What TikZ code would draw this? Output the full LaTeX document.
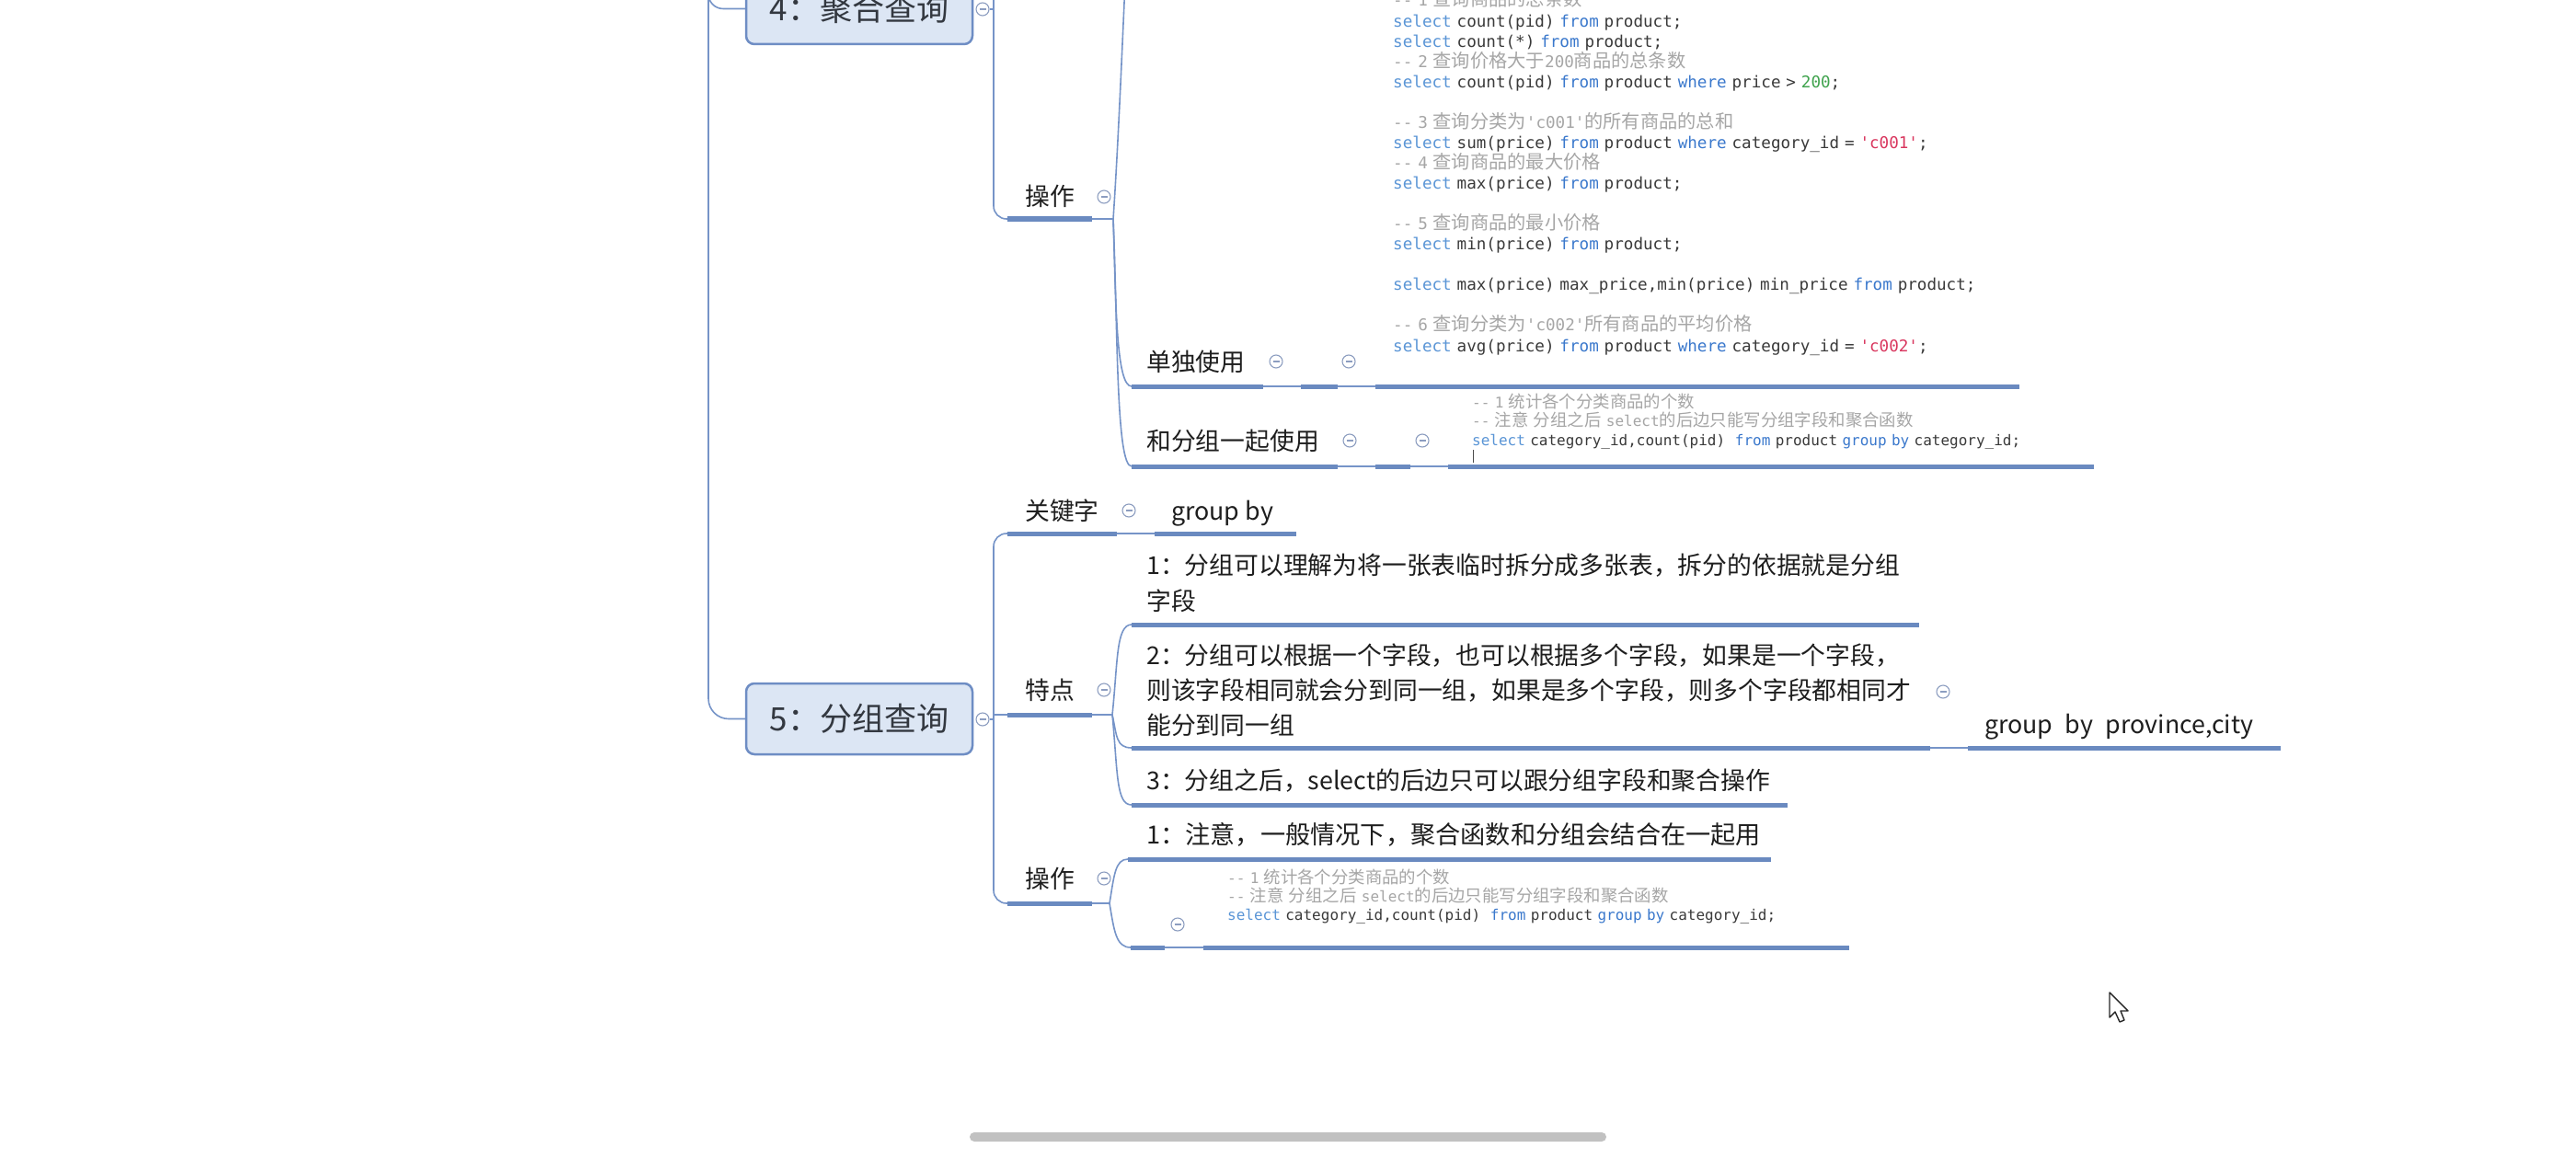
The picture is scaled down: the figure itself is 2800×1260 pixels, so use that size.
\documentclass[tikz,border=0pt]{standalone}
\usepackage{fontspec}
\setmonofont{DejaVu Sans Mono}
\newfontfamily\zhfont{Noto Sans CJK SC}
\newfontfamily\zhcode[Scale=1.15]{Noto Sans CJK SC}
\definecolor{linec}{HTML}{7694C8}
\definecolor{ulc}{HTML}{6A8AC0}
\definecolor{boxfill}{HTML}{DCE6F4}
\definecolor{boxdraw}{HTML}{6E8DC4}
\definecolor{collc}{HTML}{8C9DC0}
\definecolor{kwc}{HTML}{3A78CC}
\definecolor{selc}{HTML}{5A95D6}
\definecolor{codec}{HTML}{3A3A3A}
\definecolor{cmc}{HTML}{A6A6A6}
\definecolor{numc}{HTML}{3FA34D}
\definecolor{strc}{HTML}{D9365E}
\definecolor{txtmain}{HTML}{1E1E1E}
\definecolor{boxtxt}{HTML}{333840}
\definecolor{barc}{HTML}{C1C1C1}
\newcommand\ccm[1]{\textcolor{cmc}{#1}}
\newcommand\czh[1]{{\zhcode #1}}
\newcommand\csel[1]{\textcolor{selc}{#1}}
\newcommand\ckw[1]{\textcolor{kwc}{#1}}
\newcommand\cstr[1]{\textcolor{strc}{#1}}
\newcommand\cnum[1]{\textcolor{numc}{#1}}
\tikzset{
  conn/.style={linec, line width=1.6pt},
  ul/.style={ulc, line width=5pt},
  caret/.style={draw=black!70, line width=1pt},
  topbox/.style={rectangle, rounded corners=9pt, draw=boxdraw, line width=2.5pt, fill=boxfill,
    minimum width=246pt, minimum height=77pt, inner sep=0pt, text=boxtxt,
    font={\zhfont\fontsize{35}{40}\selectfont}},
  coll/.style={circle, draw=collc, fill=white, line width=1.1pt, minimum size=14pt, inner sep=0pt,
    path picture={\draw[collc, line width=1.1pt] ([xshift=-3.5pt]path picture bounding box.center) -- ([xshift=3.5pt]path picture bounding box.center);}},
  topic/.style={font={\zhfont\fontsize{26.8}{39}\selectfont}, text=txtmain, inner sep=0pt, anchor=base west},
  item/.style={topic, text width=1000pt, align=left},
  code1/.style={font={\ttfamily\fontsize{17.6}{22.06}\selectfont\lineskiplimit=-100pt}, text=codec,
    inner sep=0pt, anchor=base west, text width=900pt, align=left},
  code2/.style={code1, font={\ttfamily\fontsize{16}{20.5}\selectfont\lineskiplimit=-100pt}},
}
\begin{document}
\begin{tikzpicture}[x=1pt, y=-1pt]
\useasboundingbox (0,0) rectangle (2800,1260);
\clip (0,0) rectangle (2800,1260);
\fill[white] (0,0) rectangle (2800,1260);

% ---------- boxes and spine ----------
\node[topbox] (b4) at (934,9.5) {4：聚合查询};
\node[topbox] (b5) at (934,781.5) {5：分组查询};
\coordinate (root) at (770,-60);
\draw[conn, rounded corners=16] (root) |- (b4.west);
\draw[conn, rounded corners=22] (root) |- (b5.west);

% ---------- box 4 branch ----------
\node[coll] (cb4) at (1068,10) {};
\coordinate (s4top) at (1080,-40);
\coordinate (op4a) at (1095,238);
\coordinate (op4b) at (1187,238);
\coordinate (op4o) at (1210,238);
\draw[conn] (cb4.east) -- (cb4.east -| s4top);
\draw[conn, rounded corners=14] (s4top) |- (op4a);
\node[topic] (op4) at (1114,224) {操作};
\draw[ul] (op4a) -- (op4b);
\node[coll] (cop4) at (1200,214) {};
\draw[conn] (op4b) -- (op4o);
\coordinate (up4) at (1224,-40);
\coordinate (dda) at (1230,420);
\coordinate (hfa) at (1230,507);
\draw[conn] (op4o) .. controls (1216,150) and (1221,20) .. (up4);
\draw[conn] (op4o) .. controls (1213,330) and (1213,420) .. (dda);
\draw[conn] (op4o) .. controls (1215,360) and (1213,507) .. (hfa);

% 单独使用
\node[topic] (dd) at (1246,403) {单独使用};
\coordinate (ddb) at (1373,420);
\coordinate (e1a) at (1414,420);
\coordinate (e1b) at (1454,420);
\coordinate (k1a) at (1495,420);
\coordinate (k1b) at (2195,420);
\draw[ul] (dda) -- (ddb);
\node[coll] (cdd) at (1387,393) {};
\draw[conn] (ddb) -- (e1a);
\draw[ul] (e1a) -- (e1b);
\node[coll] (ce1) at (1466,393) {};
\draw[conn] (e1b) -- (k1a);
\draw[ul] (k1a) -- (k1b);
\node[code1] (code1) at (1514,7) {%
\ccm{-{}- 1 \czh{查询商品的总条数}}\\
\csel{select} count(pid) \ckw{from} product;\\
\csel{select} count(*) \ckw{from} product;\\
\ccm{-{}- 2 \czh{查询价格大于}200\czh{商品的总条数}}\\
\csel{select} count(pid) \ckw{from} product \ckw{where} price > \cnum{200};\\[22.06pt]
\ccm{-{}- 3 \czh{查询分类为}'c001'\czh{的所有商品的总和}}\\
\csel{select} sum(price) \ckw{from} product \ckw{where} category\_id = \cstr{'c001'};\\
\ccm{-{}- 4 \czh{查询商品的最大价格}}\\
\csel{select} max(price) \ckw{from} product;\\[22.06pt]
\ccm{-{}- 5 \czh{查询商品的最小价格}}\\
\csel{select} min(price) \ckw{from} product;\\[22.06pt]
\csel{select} max(price) max\_price,min(price) min\_price \ckw{from} product;\\[22.06pt]
\ccm{-{}- 6 \czh{查询分类为}'c002'\czh{所有商品的平均价格}}\\
\csel{select} avg(price) \ckw{from} product \ckw{where} category\_id = \cstr{'c002'};};

% 和分组一起使用
\node[topic] (hf) at (1246,489) {和分组一起使用};
\coordinate (hfb) at (1454,507);
\coordinate (e2a) at (1495,507);
\coordinate (e2b) at (1533,507);
\coordinate (k2a) at (1574,507);
\coordinate (k2b) at (2276,507);
\draw[ul] (hfa) -- (hfb);
\node[coll] (chf) at (1467,479) {};
\draw[conn] (hfb) -- (e2a);
\draw[ul] (e2a) -- (e2b);
\node[coll] (ce2) at (1546,479) {};
\draw[conn] (e2b) -- (k2a);
\draw[ul] (k2a) -- (k2b);
\node[code2] (code2) at (1600,443) {%
\ccm{-{}- 1 \czh{统计各个分类商品的个数}}\\
\ccm{-{}- \czh{注意} \czh{分组之后} select\czh{的后边只能写分组字段和聚合函数}}\\
\csel{select} category\_id,count(pid)\ \ \ckw{from} product \ckw{group} \ckw{by} category\_id;};
\coordinate (cara) at (1601,489);
\coordinate (carb) at (1601,503);
\draw[caret] (cara) -- (carb);

% ---------- box 5 branch ----------
\node[coll] (cb5) at (1068,782) {};
\coordinate (kwa) at (1095,580);
\coordinate (op5a) at (1095,982);
\coordinate (s5mid) at (1080,800);
\coordinate (tda) at (1095,777);
\draw[conn, rounded corners=14] (kwa) -| (s5mid) |- (op5a);
\draw[conn] (cb5.east) -- (cb5.east -| s5mid);
\draw[conn] (tda -| s5mid) -- (tda);

% 关键字
\node[topic] (kw) at (1114,565) {关键字};
\coordinate (kwb) at (1214,580);
\coordinate (gba) at (1255,580);
\coordinate (gbb) at (1409,580);
\draw[ul] (kwa) -- (kwb);
\node[coll] (ckey) at (1227,555) {};
\draw[conn] (kwb) -- (gba);
\draw[ul] (gba) -- (gbb);
\node[topic] (gb) at (1273,565) {group by};

% 特点
\node[topic] (td) at (1114,760) {特点};
\coordinate (tdb) at (1187,777);
\coordinate (tdo) at (1209,777);
\draw[ul] (tda) -- (tdb);
\node[coll] (ctd) at (1200,750) {};
\draw[conn] (tdb) -- (tdo);
\coordinate (i1a) at (1230,679);
\coordinate (i1b) at (2086,679);
\coordinate (i2a) at (1230,813);
\coordinate (i2b) at (2098,813);
\coordinate (i3a) at (1230,875);
\coordinate (i3b) at (1943,875);
\draw[conn] (tdo) .. controls (1215,720) and (1213,679) .. (i1a);
\draw[conn] (tdo) .. controls (1214,800) and (1213,813) .. (i2a);
\draw[conn] (tdo) .. controls (1215,840) and (1213,875) .. (i3a);
\draw[ul] (i1a) -- (i1b);
\draw[ul] (i2a) -- (i2b);
\draw[ul] (i3a) -- (i3b);
\node[item] (i1) at (1246,624) {1：分组可以理解为将一张表临时拆分成多张表，拆分的依据就是分组\\字段};
\node[item, font={\zhfont\fontsize{26.8}{38}\selectfont}] (i2) at (1246,722) {2：分组可以根据一个字段，也可以根据多个字段，如果是一个字段，\\则该字段相同就会分到同一组，如果是多个字段，则多个字段都相同才\\能分到同一组};
\node[topic] (i3) at (1246,858) {3：分组之后，select的后边只可以跟分组字段和聚合操作};
\node[coll] (ci2) at (2112,752) {};
\coordinate (pca) at (2139,813);
\coordinate (pcb) at (2479,813);
\draw[conn] (i2b) -- (pca);
\draw[ul] (pca) -- (pcb);
\node[topic] (pc) at (2157,797) {group\hspace{0.5em}by\hspace{0.5em}province,city};

% 操作 (5)
\node[topic] (op5) at (1114,965) {操作};
\coordinate (op5b) at (1187,982);
\coordinate (op5o) at (1206,982);
\draw[ul] (op5a) -- (op5b);
\node[coll] (cop5) at (1200,955) {};
\draw[conn] (op5b) -- (op5o);
\coordinate (n1a) at (1226,934);
\coordinate (n1b) at (1925,934);
\coordinate (e3a) at (1229,1030);
\coordinate (e3b) at (1266,1030);
\coordinate (k3a) at (1308,1030);
\coordinate (k3b) at (2010,1030);
\draw[conn] (op5o) .. controls (1211,952) and (1212,934) .. (n1a);
\draw[conn] (op5o) .. controls (1211,1012) and (1213,1030) .. (e3a);
\draw[ul] (n1a) -- (n1b);
\node[topic, font={\zhfont\fontsize{27.2}{39}\selectfont}] (n1) at (1246,917) {1：注意，一般情况下，聚合函数和分组会结合在一起用};
\draw[ul] (e3a) -- (e3b);
\node[coll] (ce3) at (1280,1005) {};
\draw[conn] (e3b) -- (k3a);
\draw[ul] (k3a) -- (k3b);
\node[code2, font={\ttfamily\fontsize{16}{20}\selectfont\lineskiplimit=-100pt}] (code3) at (1334,960) {%
\ccm{-{}- 1 \czh{统计各个分类商品的个数}}\\
\ccm{-{}- \czh{注意} \czh{分组之后} select\czh{的后边只能写分组字段和聚合函数}}\\
\csel{select} category\_id,count(pid)\ \ \ckw{from} product \ckw{group} \ckw{by} category\_id;};

% ---------- scrollbar and pointer ----------
\fill[barc, rounded corners=5pt] (1054,1231) rectangle (1746,1241);
\draw[fill=white, draw=black!85, line width=1.4pt, line join=round]
  (2293,1079) -- (2293,1106) -- (2299,1100) -- (2304,1111) -- (2309,1109) -- (2305,1099) -- (2313,1099) -- cycle;
\end{tikzpicture}
\end{document}
